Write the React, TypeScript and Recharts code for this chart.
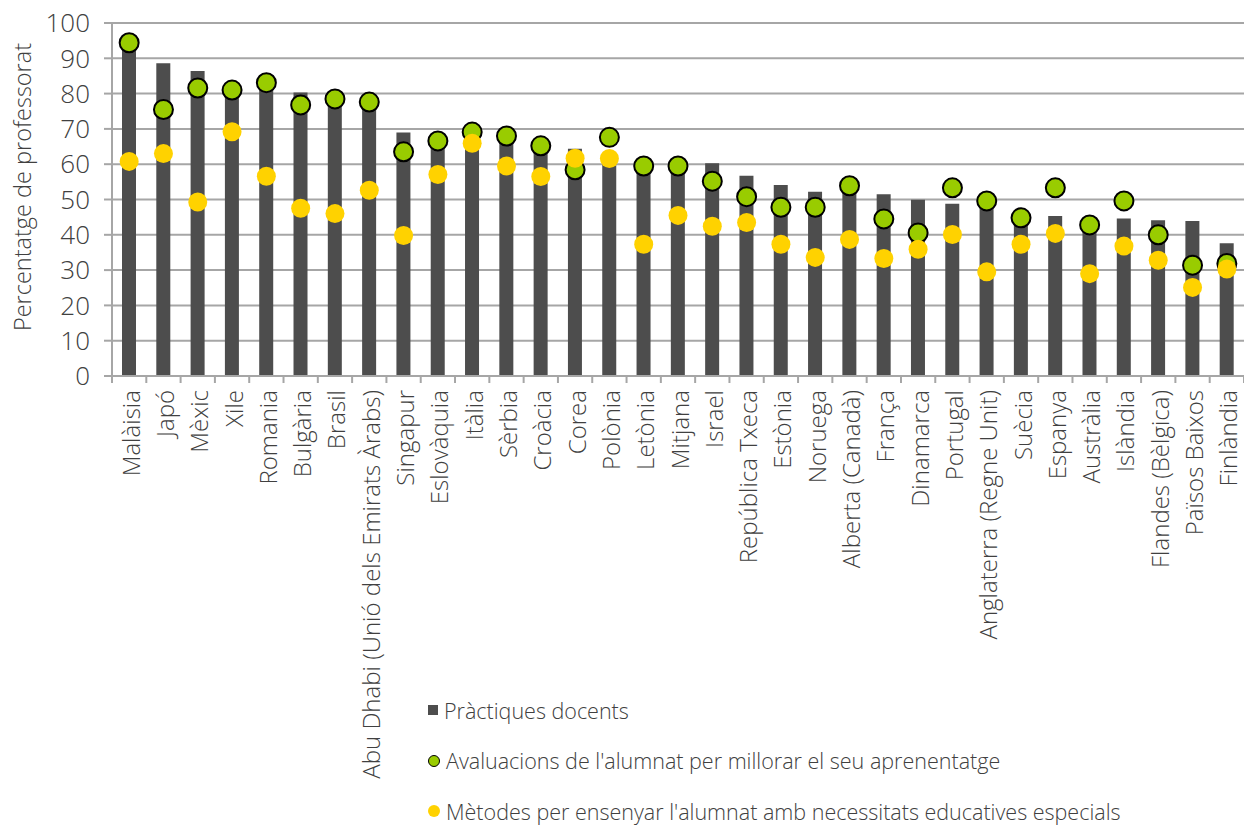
import { ComposedChart, Bar, Line, XAxis, YAxis, CartesianGrid, Legend } from 'recharts'

const countries = [
  'Malàisia', 'Japó', 'Mèxic', 'Xile', 'Romania', 'Bulgària', 'Brasil',
  'Abu Dhabi (Unió dels Emirats Àrabs)', 'Singapur', 'Eslovàquia', 'Itàlia', 'Sèrbia',
  'Croàcia', 'Corea', 'Polònia', 'Letònia', 'Mitjana', 'Israel', 'República Txeca',
  'Estònia', 'Noruega', 'Alberta (Canadà)', 'França', 'Dinamarca', 'Portugal',
  'Anglaterra (Regne Unit)', 'Suècia', 'Espanya', 'Austràlia', 'Islàndia',
  'Flandes (Bèlgica)', 'Països Baixos', 'Finlàndia',
]
const practiques = [
  93.5, 88.6, 86.4, 80.5, 82, 80.3, 77.5, 77, 69.0, 66, 68, 67, 64, 64.4, 62, 59, 59,
  60.3, 56.7, 54.1, 52.2, 53, 51.5, 49.9, 48.8, 49, 44, 45.3, 42, 44.6, 44.1, 43.9, 37.6,
]
const avaluacions = [
  94.4, 75.5, 81.6, 81.0, 83.1, 76.8, 78.5, 77.6, 63.5, 66.6, 69.1, 68.0, 65.2, 58.4, 67.6,
  59.5, 59.5, 55.2, 50.8, 47.8, 47.8, 53.9, 44.5, 40.5, 53.3, 49.6, 44.8, 53.3, 42.8, 49.6,
  40.0, 31.4, 31.9,
]
const metodes = [
  60.8, 63.0, 49.3, 69.2, 56.6, 47.5, 46.0, 52.6, 39.8, 57.1, 65.9, 59.5, 56.5, 61.7, 61.6,
  37.3, 45.5, 42.4, 43.5, 37.3, 33.6, 38.7, 33.3, 35.9, 40.1, 29.5, 37.3, 40.4, 29.0, 36.8,
  32.8, 25.1, 30.3,
]
const yTicks = [0, 10, 20, 30, 40, 50, 60, 70, 80, 90, 100]

const SERIES = [
  { key: 'practiques', label: 'Pràctiques docents' },
  { key: 'avaluacions', label: "Avaluacions de l'alumnat per millorar el seu aprenentatge" },
  { key: 'metodes', label: "Mètodes per ensenyar l'alumnat amb necessitats educatives especials" },
]

const GRID = '#a6a6a6'
const TEXT = '#404040'
const BAR = '#4d4d4d'
const GREEN = '#99cc00'
const YELLOW = '#ffd200'
const HALF_BAND = (1244 - 112) / countries.length / 2

const data = countries.map((name, i) => ({
  name,
  practiques: practiques[i],
  avaluacions: avaluacions[i],
  metodes: metodes[i],
}))

function CountryTick(props: any) {
  const { x, y, payload, index } = props
  const top = y - 8
  return (
    <g>
      <line x1={x - HALF_BAND} y1={top} x2={x - HALF_BAND} y2={top + 7} stroke={GRID} strokeWidth={2} />
      {index === countries.length - 1 && (
        <line x1={x + HALF_BAND} y1={top} x2={x + HALF_BAND} y2={top + 7} stroke={GRID} strokeWidth={2} />
      )}
      <text
        x={0}
        y={0}
        transform={`translate(${x + 1},${top + 14}) rotate(-90)`}
        textAnchor="end"
        dominantBaseline="central"
        fontSize={24}
        fill={TEXT}
      >
        {payload.value}
      </text>
    </g>
  )
}

function AxisTitle() {
  return (
    <text x={0} y={0} transform="translate(22,187) rotate(-90)" textAnchor="middle" dominantBaseline="central" fontSize={23.5} fill={TEXT}>
      Percentatge de professorat
    </text>
  )
}

function LegendBox() {
  const marker = (i: number) => {
    if (i === 0) return <span style={{ width: 10, height: 10, background: BAR, display: 'inline-block' }} />
    return (
      <span
        style={{
          width: i === 1 ? 10 : 12,
          height: i === 1 ? 10 : 12,
          borderRadius: '50%',
          background: i === 1 ? GREEN : YELLOW,
          border: i === 1 ? '1.5px solid #000' : 'none',
          display: 'inline-block',
        }}
      />
    )
  }
  return (
    <div style={{ height: 130 }}>
      {SERIES.map((s, i) => (
        <div
          key={s.key}
          style={{ height: 30, marginBottom: 20.5, display: 'flex', alignItems: 'center', gap: 6, color: TEXT, fontSize: 21.5, whiteSpace: 'nowrap' }}
        >
          {marker(i)}
          <span>{s.label}</span>
        </div>
      ))}
    </div>
  )
}

export default function App() {
  return (
    <div style={{ position: 'absolute', left: 0, top: 0, fontFamily: '"Open Sans", sans-serif', fontWeight: 300 }}>
      <ComposedChart width={1244} height={825} data={data} margin={{ top: 23, right: 0, left: 0, bottom: 0 }}>
        <CartesianGrid vertical={false} stroke={GRID} strokeWidth={2} />
        <XAxis
          dataKey="name"
          interval={0}
          height={319}
          tickLine={false}
          axisLine={{ stroke: GRID, strokeWidth: 2 }}
          tick={<CountryTick />}
        />
        <YAxis
          domain={[0, 100]}
          ticks={yTicks}
          width={112}
          tickSize={8}
          tickMargin={14}
          tickLine={{ stroke: GRID, strokeWidth: 2 }}
          axisLine={{ stroke: GRID, strokeWidth: 2 }}
          tick={{ fontSize: 26, fill: TEXT }}
          label={<AxisTitle />}
        />
        <Legend verticalAlign="bottom" align="left" height={130} wrapperStyle={{ left: 428, bottom: 0, width: 816 }} content={<LegendBox />} />
        <Bar dataKey="practiques" name={SERIES[0].label} fill={BAR} barSize={14} isAnimationActive={false} />
        <Line
          dataKey="avaluacions"
          name={SERIES[1].label}
          stroke="none"
          dot={{ r: 9.5, fill: GREEN, stroke: '#000', strokeWidth: 2 }}
          activeDot={false}
          isAnimationActive={false}
        />
        <Line
          dataKey="metodes"
          name={SERIES[2].label}
          stroke="none"
          dot={{ r: 9.5, fill: YELLOW, stroke: 'none' }}
          activeDot={false}
          isAnimationActive={false}
        />
      </ComposedChart>
    </div>
  )
}
